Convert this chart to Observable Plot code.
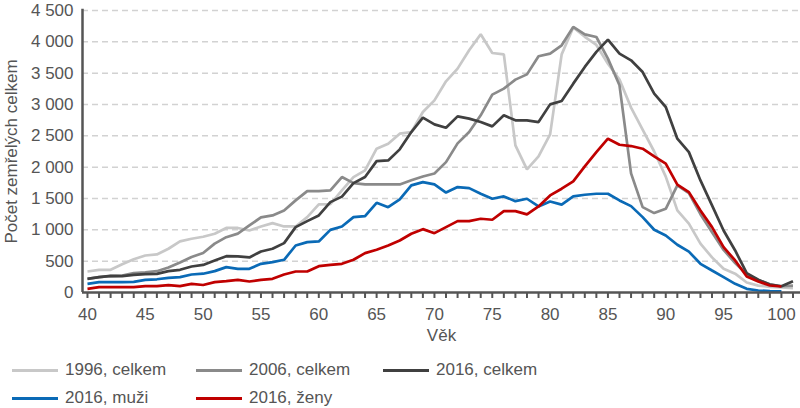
<!DOCTYPE html>
<html><head><meta charset="utf-8">
<script src="https://cdn.jsdelivr.net/npm/d3@7"></script>
<script src="https://cdn.jsdelivr.net/npm/@observablehq/plot@0.6"></script>
<style>
body{margin:0;background:#fff;font-family:"Liberation Sans",sans-serif;}
#chart{position:relative;width:800px;height:408px;overflow:hidden;}
#chart svg{display:block;}
.legend{position:absolute;left:0;top:345px;width:800px;height:63px;}
.item{position:absolute;display:flex;align-items:center;font-size:17px;color:#555;line-height:20px;transform:translateY(-50%);}
.sw{width:46px;height:3px;margin-right:7px;}
</style></head><body><div id="chart"></div>
<script>
const ages = d3.range(40, 102);
const series = ["1996, celkem", "2006, celkem", "2016, celkem", "2016, muži", "2016, ženy"];
const colors = ["#c8c8c8", "#8a8a8a", "#404040", "#0a6ab6", "#c00000"];
const v1996 = [335,360,362,450,530,590,607,698,815,857,890,937,1030,1030,990,1054,1107,1054,1054,1203,1405,1410,1630,1842,1948,2295,2375,2534,2560,2880,3066,3370,3572,3865,4120,3822,3800,2348,1964,2172,2523,3800,4230,4080,3950,3650,3400,2950,2600,2250,1850,1310,1100,780,560,380,300,160,110,90,80,70];
const v2006 = [220,245,262,270,310,322,340,400,480,565,630,780,883,940,1070,1198,1230,1310,1470,1618,1618,1630,1842,1746,1725,1725,1725,1725,1790,1850,1900,2080,2380,2560,2827,3157,3253,3397,3481,3769,3812,3944,4237,4120,4077,3732,3306,1900,1362,1267,1336,1709,1586,1250,960,680,470,290,200,130,100,110];
const v2016 = [218,245,266,261,282,293,298,341,362,415,440,511,580,575,559,655,698,788,1043,1139,1230,1442,1530,1746,1842,2097,2108,2284,2560,2790,2683,2630,2811,2774,2720,2651,2827,2747,2747,2720,3002,3055,3333,3600,3840,4035,3812,3705,3518,3173,2960,2454,2240,1789,1390,990,671,308,203,128,100,180];
const vMuzi = [138,165,165,165,170,202,211,234,245,287,300,341,405,378,378,458,484,522,750,804,815,1000,1054,1203,1219,1432,1362,1485,1709,1762,1725,1595,1682,1666,1576,1496,1533,1458,1496,1373,1453,1403,1533,1560,1576,1576,1469,1378,1203,1001,910,762,652,458,351,245,138,59,32,22,20];
const vZeny = [58,85,85,85,85,101,101,117,101,138,120,165,181,202,176,202,218,287,335,335,420,440,458,522,628,682,751,830,937,1011,947,1043,1139,1139,1177,1161,1298,1298,1246,1373,1549,1656,1773,2012,2240,2454,2358,2337,2294,2172,2055,1720,1602,1310,1043,724,511,256,176,112,96];
const yTicks = [0,500,1000,1500,2000,2500,3000,3500,4000,4500];
const yGrid = [500,1000,1500,2000,2500,3000,3500,4000,4500];
const xLabelTicks = [40,45,50,55,60,65,70,75,80,85,90,95,100];
const xMinorTicks = d3.range(40, 102);
const xDomain = [39.57, 101.65];

const allValues = [v1996, v2006, v2016, vMuzi, vZeny];
const rows = allValues.map((vals, i) => vals.map((v, j) => ({age: ages[j], value: v, series: series[i]})));

const fmt = d => d >= 1000 ? `${Math.floor(d/1000)} ${String(d%1000).padStart(3,"0")}` : String(d);

const plot = Plot.plot({
  width: 800, height: 345,
  marginLeft: 82, marginRight: 0, marginTop: 10, marginBottom: 53,
  style: {fontFamily: '"Liberation Sans", sans-serif', fontSize: "17px", color: "#555", background: "white", overflow: "visible"},
  x: {domain: xDomain},
  y: {domain: [0, 4500]},
  marks: [
    Plot.ruleY(yGrid, {stroke: "#d2d2d2", strokeWidth: 1.5, strokeDasharray: "6,4"}),
    Plot.axisY({ticks: yTicks, tickSize: 0, tickPadding: 9, tickFormat: fmt, label: "Počet zemřelých celkem", labelArrow: false, labelAnchor: "center", labelOffset: 78, fontSize: 17}),
    Plot.axisX({ticks: xMinorTicks, tickSize: 6, tickFormat: () => "", label: null, stroke: "#555", strokeWidth: 2}),
    Plot.axisX({ticks: xLabelTicks, tickSize: 0, tickPadding: 15, tickFormat: d => String(d), label: "Věk", labelArrow: false, labelAnchor: "center", labelOffset: 48, fontSize: 17}),
    ...rows.map((r, i) => Plot.line(r, {x: "age", y: "value", stroke: colors[i], strokeWidth: 2.7, strokeLinejoin: "miter", strokeLinecap: "butt"})),
    Plot.ruleX([xDomain[0]], {y1: 0, y2: 4520, stroke: "#555", strokeWidth: 2.5}),
    Plot.ruleY([0], {stroke: "#555", strokeWidth: 2.5})
  ]
});
const chart = document.getElementById("chart");
chart.appendChild(plot);

const legend = document.createElement("div");
legend.className = "legend";
const pos = [[12, 25], [196, 25], [383, 25], [12, 53], [196, 53]];
series.forEach((s, i) => {
  const it = document.createElement("div");
  it.className = "item";
  it.style.left = pos[i][0] + "px";
  it.style.top = pos[i][1] + "px";
  const sw = document.createElement("span");
  sw.className = "sw";
  sw.style.background = colors[i];
  const t = document.createElement("span");
  t.textContent = s;
  it.appendChild(sw); it.appendChild(t);
  legend.appendChild(it);
});
chart.appendChild(legend);
</script>
</body></html>
